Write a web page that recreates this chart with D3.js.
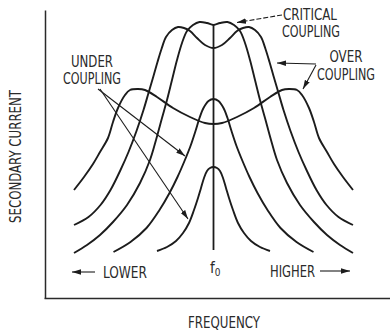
<!DOCTYPE html>
<html>
<head>
<meta charset="utf-8">
<script src="https://cdn.jsdelivr.net/npm/d3@7"></script>
<style>
  html, body { margin: 0; padding: 0; background: #fff; }
  svg { display: block; }
  text {
    font-family: "Liberation Sans Narrow", "Arial Narrow", "DejaVu Sans Condensed", "Liberation Sans", sans-serif;
    fill: #2a2a2a;
  }
</style>
</head>
<body>
<svg id="chart" width="390" height="331"></svg>
<script>
// Resonance curves of a coupled tuned circuit: secondary current vs. frequency.
// Each curve is given as [offset from f0, current] for one flank; the other flank is its mirror image.
const underLoose    = [[0,131],[3.5,130],[6.5,127],[9.5,120],[12.5,110],[15.5,100],[19.5,88],[24.5,75],[30.5,65],[37.5,57],[46.5,51],[56.5,47]];
const underModerate = [[0,199],[5,197],[10,190],[14,180],[18,167],[23,152],[29,137],[36,121],[44,105],[54,88],[67,70],[83,56],[100,46]];
const critical      = [[0,273],[6.5,275],[14,276],[20.5,273],[26.5,267],[31.5,255],[36.5,238],[41.5,218],[46.5,198],[51.5,180],[57.5,158],[63.5,138],[73.5,115],[86.5,93],[100.5,76],[113.5,63],[126.5,53],[139.5,45]];
const overSlight    = [[0,250],[8.5,253],[16.5,260],[23.5,267],[29.5,270],[35.5,271],[41.5,268],[47.5,261],[52,249],[56,236],[60,222],[65,205],[70,188],[77,167],[85,146],[93,128],[103,108],[113,93],[125,81],[139.5,73]];
const overStrong    = [[0,174],[8.5,175],[23.5,181],[40.5,190],[56.5,201],[68.5,208],[75.5,209],[83.5,208],[88.5,203],[95.5,190],[100.5,176],[105.5,160],[113.5,146],[120.5,134],[129.5,121],[139.5,108]];

const curves = [underLoose, underModerate, critical, overSlight, overStrong];

// Resonant frequency marker: current range covered by the f0 line
const f0Span = [48, 274];

// Axis and annotation labels
const yTitle = "SECONDARY CURRENT";
const xTitle = "FREQUENCY";
const lowLabel = "LOWER";
const highLabel = "HIGHER";
const underLabel = ["UNDER", "COUPLING"];
const criticalLabel = ["CRITICAL", "COUPLING"];
const overLabel = ["OVER", "COUPLING"];

const svg = d3.select("#chart");

const x = d3.scaleLinear().domain([-140, 140]).range([73.5, 353.5]);
const y = d3.scaleLinear().domain([0, 275]).range([298, 23]);

// Arrowhead
const defs = svg.append("defs");
defs.append("marker")
  .attr("id", "head")
  .attr("viewBox", "0 0 10 6")
  .attr("refX", 10).attr("refY", 3)
  .attr("markerWidth", 9).attr("markerHeight", 5.5)
  .attr("markerUnits", "userSpaceOnUse")
  .attr("orient", "auto")
  .append("path").attr("d", "M0,0L10,3L0,6Z").attr("fill", "#1c1c1c");

// Axes: bare lines with no ticks
const xAxisScale = d3.scaleLinear().domain([x.invert(44), x.invert(390)]).range([44, 390]);
const yAxisScale = d3.scaleLinear().domain([0, y.invert(10)]).range([298, 10]);

const gx = svg.append("g").attr("transform", "translate(0,298)")
  .call(d3.axisBottom(xAxisScale).tickValues([]).tickSizeOuter(0));
const gy = svg.append("g").attr("transform", "translate(45,0)")
  .call(d3.axisLeft(yAxisScale).tickValues([]).tickSizeOuter(0));
[gx, gy].forEach(g => g.select(".domain").attr("stroke", "#2a2a2a").attr("stroke-width", 1.5));

// Curves
const line = d3.line()
  .x(d => x(d[0]))
  .y(d => y(d[1]))
  .curve(d3.curveCatmullRom.alpha(0.5));

const mirrored = half => half.slice(1).reverse().map(([f, c]) => [-f, c]).concat(half);

svg.append("g")
  .selectAll("path")
  .data(curves)
  .join("path")
  .attr("d", d => line(mirrored(d)))
  .attr("fill", "none")
  .attr("stroke", "#1c1c1c")
  .attr("stroke-width", 1.9)
  .attr("stroke-linejoin", "round");

// f0 line
svg.append("line")
  .attr("x1", x(0)).attr("x2", x(0))
  .attr("y1", y(f0Span[0])).attr("y2", y(f0Span[1]))
  .attr("stroke", "#1c1c1c").attr("stroke-width", 1.8);

// Text helpers
function label(txt, cx, by, w, size = 15) {
  return svg.append("text")
    .attr("x", cx).attr("y", by)
    .attr("text-anchor", "middle")
    .attr("font-size", size)
    .attr("textLength", w)
    .attr("lengthAdjust", "spacingAndGlyphs")
    .text(txt);
}

label(underLabel[0], 92, 67, 42);
label(underLabel[1], 92, 84, 58);
label(criticalLabel[0], 310, 20, 54);
label(criticalLabel[1], 311, 37, 58);
label(overLabel[0], 346, 62, 33);
label(overLabel[1], 346, 80, 58);
label(lowLabel, 125, 278, 44);
label(highLabel, 292.5, 277, 45);
label(xTitle, 224, 328, 72);

svg.append("text")
  .attr("transform", "translate(21,156.5) rotate(-90)")
  .attr("text-anchor", "middle")
  .attr("font-size", 15)
  .attr("textLength", 133)
  .attr("lengthAdjust", "spacingAndGlyphs")
  .text(yTitle);

// f0 label
const f0 = svg.append("text").attr("x", x(0) - 3.5).attr("y", 273).attr("font-size", 15);
f0.append("tspan").text("f");
f0.append("tspan").attr("font-size", 10).attr("dy", 3).text("0");

// Annotation arrows
const arrows = svg.append("g")
  .attr("stroke", "#1c1c1c").attr("stroke-width", 1.1).attr("fill", "none");

function arrow(x1, y1, x2, y2, dash) {
  const l = arrows.append("line")
    .attr("x1", x1).attr("y1", y1).attr("x2", x2).attr("y2", y2)
    .attr("marker-end", "url(#head)");
  if (dash) l.attr("stroke-dasharray", dash);
  return l;
}

arrow(98, 89, 185, 156);
arrow(100, 89, 188, 219);
arrow(282, 15, 237, 22.5, "5,2");
arrow(316, 64, 277, 63);
arrow(316, 65, 303, 89);
arrow(95, 272, 72, 272);
arrow(320, 271, 350, 271);
</script>
</body>
</html>
